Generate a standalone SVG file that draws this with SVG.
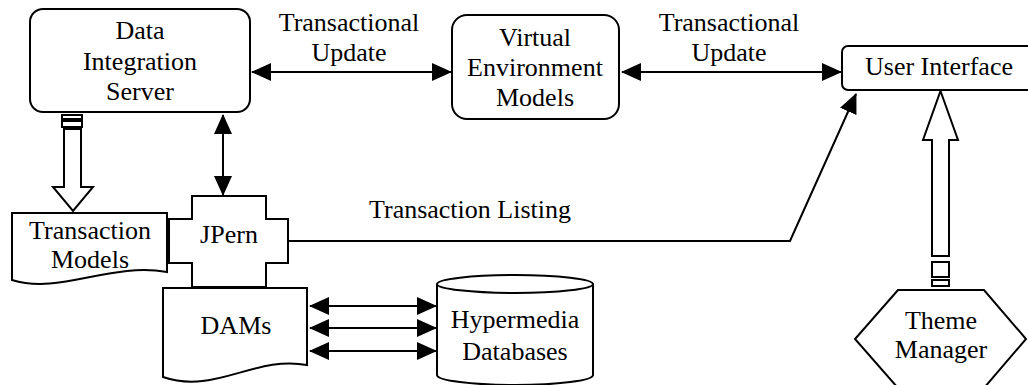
<svg xmlns="http://www.w3.org/2000/svg" width="1028" height="385" viewBox="0 0 1028 385">
<style>
.s{fill:#fff;stroke:#000;stroke-width:2;stroke-linejoin:miter}
.c{fill:none;stroke:#000;stroke-width:2}
.t{font-family:"Liberation Serif","Times New Roman",serif;font-size:26px;fill:#000;text-anchor:middle}
</style>
<defs>
<marker id="ah" markerUnits="userSpaceOnUse" markerWidth="22" markerHeight="20" refX="19" refY="10" orient="auto-start-reverse" viewBox="0 0 22 20">
<path d="M0,1 L20,10 L0,19 Z" fill="#000"/>
</marker>
</defs>
<rect width="1028" height="385" fill="#fff"/>
<g id="connectors">
<line class="c" x1="252" y1="72" x2="451" y2="72" marker-start="url(#ah)" marker-end="url(#ah)"/>
<line class="c" x1="622" y1="72" x2="841" y2="72" marker-start="url(#ah)" marker-end="url(#ah)"/>
<line class="c" x1="223" y1="115" x2="223" y2="195" marker-start="url(#ah)" marker-end="url(#ah)"/>
<polyline class="c" points="288,241 790,241 856,94" marker-end="url(#ah)"/>
<line class="c" x1="310" y1="306" x2="436" y2="306" marker-start="url(#ah)" marker-end="url(#ah)"/>
<line class="c" x1="310" y1="328" x2="436" y2="328" marker-start="url(#ah)" marker-end="url(#ah)"/>
<line class="c" x1="310" y1="351" x2="436" y2="351" marker-start="url(#ah)" marker-end="url(#ah)"/>
<g id="blockarrow-dis-tm">
<rect class="s" x="62" y="115" width="20" height="4"/>
<rect class="s" x="62" y="121" width="20" height="6"/>
<polygon class="s" points="64,129 81,129 81,187 93,187 73,211 53,187 64,187"/>
</g>
<g id="blockarrow-tm-ui">
<polygon class="s" points="940.5,91 958,140 949,140 949,256 932,256 932,140 923,140"/>
<rect class="s" x="932" y="262" width="17" height="15"/>
<rect class="s" x="932" y="280" width="17" height="6"/>
</g>
<text class="t" x="349" y="30.5">Transactional</text>
<text class="t" x="349" y="61">Update</text>
<text class="t" x="729" y="30.5">Transactional</text>
<text class="t" x="729" y="61">Update</text>
<text class="t" x="470" y="218">Transaction Listing</text>
</g>
<g id="dis">
<rect class="s" x="30" y="9" width="220" height="103" rx="13"/>
<text class="t" x="140" y="39">Data</text>
<text class="t" x="140" y="69.5">Integration</text>
<text class="t" x="140" y="100">Server</text>
</g>
<g id="vem">
<rect class="s" x="452" y="15" width="167" height="104" rx="15"/>
<text class="t" x="535" y="46">Virtual</text>
<text class="t" x="535" y="76">Environment</text>
<text class="t" x="535" y="106">Models</text>
</g>
<g id="ui">
<rect class="s" x="842" y="46" width="200" height="44" rx="6"/>
<text class="t" x="939" y="75">User Interface</text>
</g>
<g id="tm">
<path class="s" d="M12,213 H167 V272 C110,262 60,295 12,280 Z"/>
<text class="t" x="90" y="238.5">Transaction</text>
<text class="t" x="90" y="268">Models</text>
</g>
<g id="dams">
<path class="s" d="M163,288 H307 V365 C255,355 215,395 163,377 Z"/>
<text class="t" x="236" y="334">DAMs</text>
</g>
<g id="jpern">
<polygon class="s" points="192,196 266,196 266,219 288,219 288,263 266,263 266,287 192,287 192,263 169,263 169,219 192,219"/>
<text class="t" x="229" y="243">JPern</text>
</g>
<g id="hyper">
<path class="s" d="M437,284 V375 A78,10 0 0 0 593,375 V284"/>
<ellipse class="s" cx="515" cy="284" rx="78" ry="9"/>
<text class="t" x="515" y="328">Hypermedia</text>
<text class="t" x="515" y="360">Databases</text>
</g>
<g id="theme">
<polygon class="s" points="898,290 984,290 1026,339 984,388 898,388 855,339"/>
<text class="t" x="941" y="329">Theme</text>
<text class="t" x="941" y="358">Manager</text>
</g>
</svg>
